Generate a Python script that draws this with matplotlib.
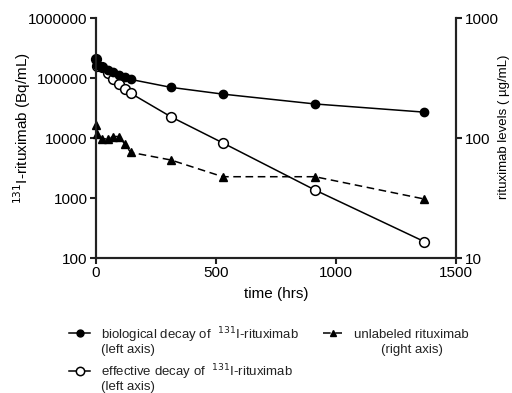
import matplotlib
matplotlib.use("Agg")
import matplotlib.pyplot as plt
from matplotlib.lines import Line2D
from matplotlib.ticker import FixedLocator, FixedFormatter, NullLocator

plt.rcParams['font.family'] = ['Liberation Sans', 'DejaVu Sans']

time_hrs = [0, 4, 24, 48, 72, 96, 120, 144, 312, 528, 912, 1368]
biological = [210000, 165000, 152000, 138000, 125000, 113000, 103000, 95000, 70000, 54000, 37000, 27000]
effective = [210000, 160000, 150000, 120000, 96000, 79000, 66000, 56000, 22600, 8300, 1360, 187]
unlabeled = [128, 109, 99, 98, 103, 103, 89, 76, 65.6, 47.6, 47.6, 31]

left_ticks = [100, 1000, 10000, 100000, 1000000]
right_ticks = [10, 100, 1000]
x_ticks = [0, 500, 1000, 1500]

W, H = 512, 393
fig = plt.figure(figsize=(W / 100, H / 100), dpi=100)
ax = fig.add_axes([0.1875, 0.3435, 0.7035, 0.6105])
ax2 = ax.twinx()

style1 = dict(linestyle='-', color='black', marker='o', mfc='black', mec='black', lw=1.1)
style2 = dict(linestyle='-', color='black', marker='o', mfc='white', mec='black', mew=1.1, lw=1.1)
style3 = dict(linestyle='--', color='black', marker='^', mfc='black', mec='black', lw=1.1, dashes=(5, 3))

ax.plot(time_hrs, biological, ms=6, clip_on=False, zorder=3, **style1)
ax.plot(time_hrs, effective, ms=7, clip_on=False, zorder=2, **style2)
ax2.plot(time_hrs, unlabeled, ms=6, clip_on=False, **style3)

ax.set_yscale('log')
ax2.set_yscale('log')
ax.set_ylim(100, 1000000)
ax2.set_ylim(10, 1000)
ax.set_xlim(0, 1500)

ax.yaxis.set_major_locator(FixedLocator(left_ticks))
ax.yaxis.set_major_formatter(FixedFormatter([str(v) for v in left_ticks]))
ax.yaxis.set_minor_locator(NullLocator())
ax2.yaxis.set_major_locator(FixedLocator(right_ticks))
ax2.yaxis.set_major_formatter(FixedFormatter([str(v) for v in right_ticks]))
ax2.yaxis.set_minor_locator(NullLocator())
ax.set_xticks(x_ticks)

for a in (ax, ax2):
    a.spines['top'].set_visible(False)
    for s in a.spines.values():
        s.set_linewidth(1.5)
        s.set_color('#222222')
    a.tick_params(axis='both', direction='out', length=4, width=1.5,
                  labelsize=11, color='#222222', pad=2)

ax.set_xlabel('time (hrs)', fontsize=11, labelpad=5)
ax.set_ylabel('$^{131}$I-rituximab (Bq/mL)', fontsize=11)
ax.yaxis.set_label_coords(-0.175, 0.54)
ax2.set_ylabel('rituximab levels ( µg/mL)', fontsize=9.5)
ax2.yaxis.set_label_coords(1.117, 0.546)

# legend (drawn manually to match layout)
def px(x, y):
    return x / W, 1 - y / H

entries = [
    (style1, (69, 90, 333), (101, 'left'),
     ['biological decay of  $^{131}$I-rituximab', '(left axis)'], 335),
    (style2, (69, 90, 371), (101, 'left'),
     ['effective decay of  $^{131}$I-rituximab', '(left axis)'], 372),
    (style3, (323, 342, 333), (411.5, 'center'),
     ['unlabeled rituximab', '(right axis)'], 335),
]
for st, (x0, x1, yh), (tx, ha), lines, yt in entries:
    st = dict(st)
    ms = 6 if st.get('mfc') == 'white' else 5
    fig.add_artist(Line2D([px(x0, yh)[0], px(x1, yh)[0]], [px(x0, yh)[1]] * 2,
                          transform=fig.transFigure, markevery=[], **st))
    fig.add_artist(Line2D([px((x0 + x1) / 2, yh)[0]], [px(x0, yh)[1]],
                          transform=fig.transFigure, ms=ms,
                          **{k: v for k, v in st.items() if k not in ('linestyle', 'dashes')},
                          linestyle='none'))
    for i, ln in enumerate(lines):
        fx, fy = px(tx, yt + 15 * i)
        fig.text(fx, fy, ln, ha=ha, va='center', fontsize=9.5, color='#222222')

fig.savefig('out.png', dpi=100)
